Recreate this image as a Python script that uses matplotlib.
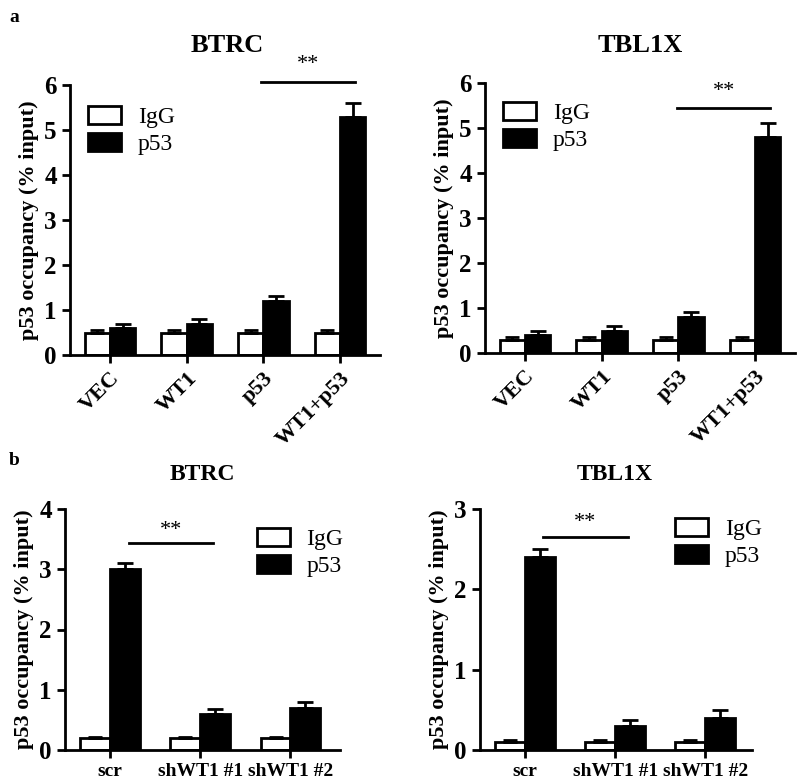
import numpy as np
import matplotlib
matplotlib.use("Agg")
import matplotlib.pyplot as plt

plt.rcParams['font.family'] = ['Liberation Serif', 'DejaVu Serif']

# panel a data
groups_a = ["VEC", "WT1", "p53", "WT1+p53"]
btrc_a_igg = [0.5, 0.5, 0.5, 0.5]
btrc_a_igg_err = [0.05, 0.05, 0.05, 0.05]
btrc_a_p53 = [0.6, 0.7, 1.2, 5.3]
btrc_a_p53_err = [0.08, 0.1, 0.12, 0.3]
tbl_a_igg = [0.3, 0.3, 0.3, 0.3]
tbl_a_igg_err = [0.05, 0.05, 0.05, 0.05]
tbl_a_p53 = [0.4, 0.5, 0.8, 4.8]
tbl_a_p53_err = [0.08, 0.1, 0.12, 0.3]

# panel b data
groups_b = ["scr", "shWT1 #1", "shWT1 #2"]
btrc_b_igg = [0.2, 0.2, 0.2]
btrc_b_igg_err = [0.02, 0.02, 0.02]
btrc_b_p53 = [3.0, 0.6, 0.7]
btrc_b_p53_err = [0.1, 0.08, 0.1]
tbl_b_igg = [0.1, 0.1, 0.1]
tbl_b_igg_err = [0.02, 0.02, 0.02]
tbl_b_p53 = [2.4, 0.3, 0.4]
tbl_b_p53_err = [0.1, 0.07, 0.1]

W, H = 800, 784
fig = plt.figure(figsize=(W / 100, H / 100), dpi=100)


def px_axes(left, right, top, bottom):
    return fig.add_axes([left / W, 1 - bottom / H, (right - left) / W, (bottom - top) / H])


def draw(ax, groups, igg, igg_err, p53, p53_err, ymax, xlim, rotate, legend_pos, sig):
    x = np.arange(len(groups))
    w = 0.33
    n = len(groups)
    ax.bar(x - w / 2, igg, w, color="white", edgecolor="black", linewidth=2,
           yerr=[[0] * n, igg_err], capsize=5,
           error_kw=dict(elinewidth=2, capthick=2), label="IgG")
    ax.bar(x + w / 2, p53, w, color="black", edgecolor="black", linewidth=2,
           yerr=[[0] * n, p53_err], capsize=6,
           error_kw=dict(elinewidth=2, capthick=2), label="p53")
    ax.set_xlim(*xlim)
    ax.set_ylim(0, ymax)
    ax.set_yticks(range(0, ymax + 1))
    ax.set_xticks(x)
    for s in ["top", "right"]:
        ax.spines[s].set_visible(False)
    for s in ["left", "bottom"]:
        ax.spines[s].set_linewidth(2)
    ax.tick_params(width=2, length=6, direction="out")
    ax.tick_params(axis="y", labelsize=18)
    if rotate:
        ax.set_xticklabels(groups, rotation=45, ha="right", rotation_mode="anchor",
                           fontsize=16, fontweight="bold")
    else:
        ax.set_xticklabels(groups, fontsize=14, fontweight="bold")
    for lab in ax.get_yticklabels():
        lab.set_fontweight("bold")
    ax.set_ylabel("p53 occupancy (% input)", fontsize=16, fontweight="bold")
    ax.legend(loc="upper left", bbox_to_anchor=legend_pos, frameon=False,
              fontsize=17, handlelength=1.4, handleheight=0.8,
              labelspacing=0.2, handletextpad=0.7)
    x0, x1, yl, ys = sig
    ax.plot([x0, x1], [yl, yl], color="black", linewidth=2, clip_on=False)
    ax.text((x0 + x1) / 2, ys, "**", ha="center", va="center", fontsize=16,
            clip_on=False)


ax1 = px_axes(70, 380, 85, 355)
draw(ax1, groups_a, btrc_a_igg, btrc_a_igg_err, btrc_a_p53, btrc_a_p53_err,
     6, (-0.52, 3.52), True, (-0.01, 1.0), (1.97, 3.2, 6.07, 6.45))

ax2 = px_axes(485, 795, 83, 353)
draw(ax2, groups_a, tbl_a_igg, tbl_a_igg_err, tbl_a_p53, tbl_a_p53_err,
     6, (-0.52, 3.52), True, (-0.01, 1.01), (1.98, 3.2, 5.44, 5.8))

ax3 = px_axes(65, 340, 509, 750)
draw(ax3, groups_b, btrc_b_igg, btrc_b_igg_err, btrc_b_p53, btrc_b_p53_err,
     4, (-0.5, 2.55), False, (0.62, 1.01), (0.21, 1.14, 3.43, 3.65))

ax4 = px_axes(480, 752, 509, 750)
draw(ax4, groups_b, tbl_b_igg, tbl_b_igg_err, tbl_b_p53, tbl_b_p53_err,
     3, (-0.5, 2.52), False, (0.64, 1.05), (0.2, 1.14, 2.65, 2.83))

fig.text(227 / W, 1 - 45 / H, "BTRC", ha="center", va="center", fontsize=19, fontweight="bold")
fig.text(640 / W, 1 - 45 / H, "TBL1X", ha="center", va="center", fontsize=19, fontweight="bold")
fig.text(202 / W, 1 - 475 / H, "BTRC", ha="center", va="center", fontsize=17, fontweight="bold")
fig.text(615 / W, 1 - 475 / H, "TBL1X", ha="center", va="center", fontsize=17, fontweight="bold")
fig.text(14 / W, 1 - 18 / H, "a", ha="center", va="center", fontsize=14, fontweight="bold")
fig.text(14 / W, 1 - 460 / H, "b", ha="center", va="center", fontsize=14, fontweight="bold")

fig.savefig("out.png", dpi=100)
